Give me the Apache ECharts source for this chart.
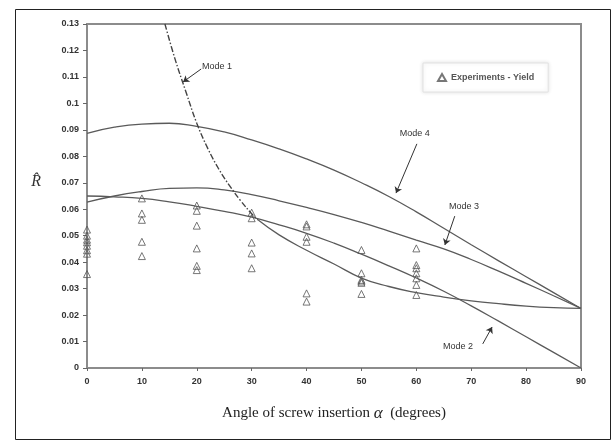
<!DOCTYPE html>
<html>
<head>
<meta charset="utf-8">
<script src="https://cdn.jsdelivr.net/npm/echarts@6/dist/echarts.min.js"></script>
<style>
  html, body { margin: 0; padding: 0; background: #fff; }
  #chart { width: 616px; height: 440px; }
</style>
</head>
<body>
<div id="chart"></div>
<script>
// angle grid used for the smooth mode curves
const angles = [0, 5, 10, 15, 20, 25, 30, 35, 40, 45, 50, 55, 60, 65, 70, 75, 80, 85, 90]
const mode2 = [0.0650, 0.0647, 0.0641, 0.0628, 0.0611, 0.0592, 0.0570, 0.0541, 0.0509, 0.0472, 0.0430, 0.0386, 0.0340, 0.0290, 0.0235, 0.0177, 0.0118, 0.0059, 0.0]
const mode3 = [0.0627, 0.0650, 0.0667, 0.0679, 0.0681, 0.0673, 0.0655, 0.0632, 0.0607, 0.0580, 0.0550, 0.0517, 0.0483, 0.0450, 0.0410, 0.0366, 0.0320, 0.0273, 0.0225]
const mode4 = [0.0887, 0.0910, 0.0922, 0.0925, 0.0913, 0.0892, 0.0862, 0.0828, 0.0790, 0.0748, 0.0700, 0.0648, 0.0590, 0.0528, 0.0466, 0.0405, 0.0345, 0.0285, 0.0225]

// mode 1 (dash-dot part) and its solid continuation
const mode1Angle = [14.2, 16, 18, 20, 22, 24, 26, 28, 30, 31.2]
const mode1Value = [0.130, 0.1170, 0.1045, 0.0925, 0.0830, 0.0752, 0.0688, 0.0632, 0.0583, 0.0559]
const tailAngle = [31.2, 35, 40, 45, 50, 55, 60, 65, 70, 75, 80, 85, 90]
const tailValue = [0.0559, 0.0503, 0.0445, 0.0393, 0.0340, 0.0308, 0.0285, 0.0268, 0.0254, 0.0243, 0.0234, 0.0228, 0.0225]

// experiments
const expAngle = [0, 0, 0, 0, 0, 0, 0, 0,
  10, 10, 10, 10, 10,
  20, 20, 20, 20, 20, 20,
  30, 30, 30, 30, 30,
  40, 40, 40, 40, 40, 40,
  50, 50, 50, 50, 50, 50,
  60, 60, 60, 60, 60, 60, 60]
const expYield = [0.0523, 0.0500, 0.0485, 0.0475, 0.0462, 0.0445, 0.0432, 0.0355,
  0.0641, 0.0584, 0.0560, 0.0477, 0.0423,
  0.0614, 0.0594, 0.0538, 0.0452, 0.0386, 0.0370,
  0.0587, 0.0566, 0.0474, 0.0433, 0.0377,
  0.0543, 0.0535, 0.0496, 0.0477, 0.0282, 0.0251,
  0.0446, 0.0358, 0.0333, 0.0327, 0.0322, 0.0280,
  0.0452, 0.0389, 0.0377, 0.0358, 0.0339, 0.0314, 0.0276]

// annotation labels and arrows (data units)
const noteText = ['Mode 1', 'Mode 4', 'Mode 3', 'Mode 2']
const notePos = [[23.7, 0.1138], [59.7, 0.0885], [68.7, 0.0612], [67.6, 0.0083]]
const arrowFrom = [[20.8, 0.1130], [60.1, 0.0847], [67.0, 0.0574], [72.1, 0.0091]]
const arrowTo = [[17.5, 0.1081], [56.3, 0.0661], [65.2, 0.0465], [73.8, 0.0155]]

const pair = (xs, ys) => xs.map((x, i) => [x, ys[i]])
const curve = '#5a5a5a'

const chart = echarts.init(document.getElementById('chart'))
const option = {
  animation: false,
  backgroundColor: '#fff',
  grid: {
    left: 87, top: 24, right: 35, bottom: 72,
    show: true, borderColor: '#8c8c8c', borderWidth: 2
  },
  legend: {
    data: ['Experiments - Yield'],
    left: 423, top: 63,
    padding: [10, 14],
    itemWidth: 8, itemHeight: 7, itemGap: 4,
    backgroundColor: '#fff',
    borderColor: '#e2e2e2', borderWidth: 1,
    shadowBlur: 4, shadowColor: 'rgba(0,0,0,0.12)',
    textStyle: { fontFamily: 'Arial', fontSize: 9, fontWeight: 'bold', color: '#555' }
  },
  xAxis: {
    type: 'value', min: 0, max: 90, interval: 10,
    name: '{a|Angle of screw insertion }{i|α}{a|  (degrees)}',
    nameLocation: 'middle', nameGap: 37,
    nameTextStyle: {
      rich: {
        a: { fontFamily: 'Liberation Serif', fontSize: 15, color: '#222' },
        i: { fontFamily: 'Liberation Serif', fontStyle: 'italic', fontSize: 17, color: '#222' }
      }
    },
    axisLine: { lineStyle: { color: '#8c8c8c', width: 2 } },
    axisTick: { inside: false, length: 3, lineStyle: { color: '#666' } },
    axisLabel: { fontFamily: 'Arial', fontSize: 9, fontWeight: 'bold', color: '#333', margin: 9 },
    splitLine: { show: false }
  },
  yAxis: {
    type: 'value', min: 0, max: 0.13, interval: 0.01,
    name: 'R\u0302',
    nameLocation: 'middle', nameRotate: 0, nameGap: 46,
    nameTextStyle: {
      fontFamily: 'Liberation Serif', fontStyle: 'italic', fontSize: 16, color: '#333',
      verticalAlign: 'bottom', lineHeight: 28
    },
    axisLine: { lineStyle: { color: '#8c8c8c', width: 2 } },
    axisTick: { length: 4, lineStyle: { color: '#666' } },
    axisLabel: {
      fontFamily: 'Arial', fontSize: 9, fontWeight: 'bold', color: '#333', margin: 8,
      formatter: v => String(+v.toFixed(2))
    },
    splitLine: { show: false }
  },
  series: [
    {
      name: 'Mode 4', type: 'line', smooth: true, showSymbol: false,
      data: pair(angles, mode4), lineStyle: { color: curve, width: 1.3 }
    },
    {
      name: 'Mode 3', type: 'line', smooth: true, showSymbol: false,
      data: pair(angles, mode3), lineStyle: { color: curve, width: 1.3 }
    },
    {
      name: 'Mode 2', type: 'line', smooth: true, showSymbol: false,
      data: pair(angles, mode2), lineStyle: { color: curve, width: 1.3 }
    },
    {
      name: 'Mode 1', type: 'line', smooth: 0.4, showSymbol: false,
      data: pair(mode1Angle, mode1Value),
      lineStyle: { color: '#444', width: 1.4, type: [6, 2, 1.5, 2] }
    },
    {
      name: 'Mode 1 tail', type: 'line', smooth: true, showSymbol: false,
      data: pair(tailAngle, tailValue), lineStyle: { color: curve, width: 1.3 }
    },
    {
      name: 'Experiments - Yield', type: 'scatter',
      symbol: 'triangle', symbolSize: 7,
      data: pair(expAngle, expYield),
      itemStyle: { color: 'rgba(255,255,255,0)', borderColor: '#555', borderWidth: 1 },
      markLine: {
        silent: true, symbol: ['none', 'arrow'], symbolSize: 6,
        lineStyle: { color: '#333', width: 1, type: 'solid' },
        label: { show: false },
        data: arrowFrom.map((p, i) => [{ coord: p }, { coord: arrowTo[i] }])
      },
      markPoint: {
        silent: true, symbol: 'rect', symbolSize: 1,
        itemStyle: { color: 'rgba(0,0,0,0)' },
        label: {
          show: true, position: 'inside', formatter: '{b}',
          fontFamily: 'Arial', fontSize: 9, color: '#333'
        },
        data: notePos.map((p, i) => ({ name: noteText[i], coord: p }))
      }
    }
  ],
  graphic: [{
    type: 'rect', left: 13, top: 7, z: -1,
    shape: { width: 595, height: 430 },
    style: { fill: 'none', stroke: '#222', lineWidth: 1 }
  }]
}
chart.setOption(option, true)
</script>
</body>
</html>
